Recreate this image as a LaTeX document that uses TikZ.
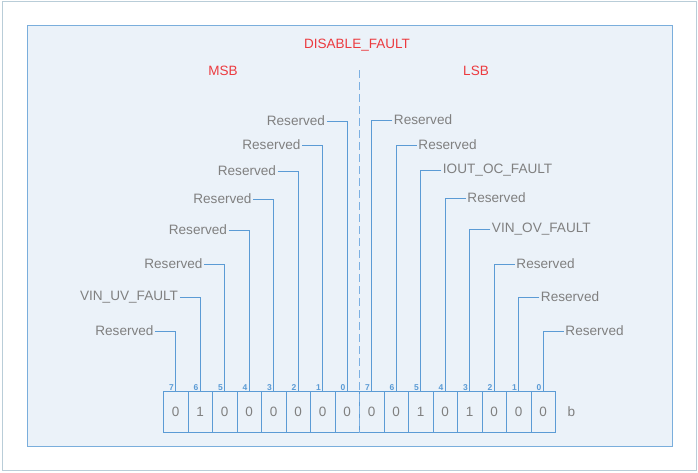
\documentclass[tikz,border=0pt]{standalone}
\usepackage{fontspec}
\setmainfont{Liberation Sans}
\usetikzlibrary{positioning, calc}
\definecolor{panelfill}{HTML}{EBF2F9}
\definecolor{panelline}{HTML}{7AAEDC}
\definecolor{wireblue}{HTML}{5B9BD5}
\definecolor{dashblue}{HTML}{7CB0E2}
\definecolor{framegray}{HTML}{B9CDD8}
\definecolor{txtgray}{HTML}{808080}
\definecolor{titlered}{HTML}{EC3A3F}
\tikzset{
    bitcell/.style={draw=wireblue, line width=0.9pt, minimum width=24.5pt, minimum height=41pt, inner sep=0pt, anchor=north west, font=\fontsize{13.5}{15}\selectfont, text=txtgray},
    bitnum/.style={font=\fontsize{8.5}{9}\selectfont\bfseries, text=wireblue, inner sep=0.6pt, anchor=south east, xshift=-1pt},
    fld/.style={font=\fontsize{13.6}{15}\selectfont, text=txtgray, inner sep=1.5pt},
    head/.style={font=\fontsize{13.5}{15}\selectfont, text=titlered},
    wire/.style={draw=wireblue, line width=0.9pt}
}

\begin{document}
\begin{tikzpicture}[x=1pt, y=-1pt]
        \useasboundingbox (0,0) rectangle (698,472);
        % Marcos
        \draw[framegray, line width=0.9pt] (2.5,1.5) rectangle (696,470);
        \draw[panelline, fill=panelfill, line width=0.9pt] (27,25) rectangle (672.5,446);

        % Titulos
        \node[head] (dis) at (357,45) {DISABLE\_FAULT};
        \node[head] (msb) at (223,71) {MSB};
        \node[head] (lsb) at (476,71) {LSB};

        % Celdas de bits
        \foreach \i/\v in {0/0, 1/1, 2/0, 3/0, 4/0, 5/0, 6/0, 7/0, 8/0, 9/0, 10/1, 11/0, 12/1, 13/0, 14/0, 15/0} {
            \node[bitcell] (c\i) at ({163+24.5*\i},391) {\v};
            \pgfmathtruncatemacro\nb{7-mod(\i,8)}
            \node[bitnum] (n\i) at (c\i.north) {\nb};
        }
        \node[fld, right=10pt of c15] (unit) {b};

        % Campos MSB
        \foreach \i/\y/\t in {0/331/Reserved, 1/297/VIN\_UV\_FAULT, 2/264/Reserved, 3/230/Reserved,
                              4/199/Reserved, 5/171/Reserved, 6/145/Reserved, 7/121/Reserved} {
            \node[fld, anchor=east] (f\i) at ({175.25+24.5*\i-20},\y) {\t};
            \draw[wire] (f\i.east) -| (c\i.north);
        }

        % Campos LSB
        \foreach \i/\y/\t in {8/120/Reserved, 9/145/Reserved, 10/170/IOUT\_OC\_FAULT, 11/198/Reserved,
                              12/229/VIN\_OV\_FAULT, 13/264/Reserved, 14/297/Reserved, 15/331/Reserved} {
            \node[fld, anchor=west] (f\i) at ({175.25+24.5*\i+21},\y) {\t};
            \draw[wire] (f\i.west) -| (c\i.north);
        }

        % Division
        \coordinate (divtop) at (c7.south east |- 0,70);
        \draw[dashblue, line width=1pt, dash pattern=on 8pt off 4pt] (divtop) -- (c7.south east);
    \end{tikzpicture}
\end{document}
